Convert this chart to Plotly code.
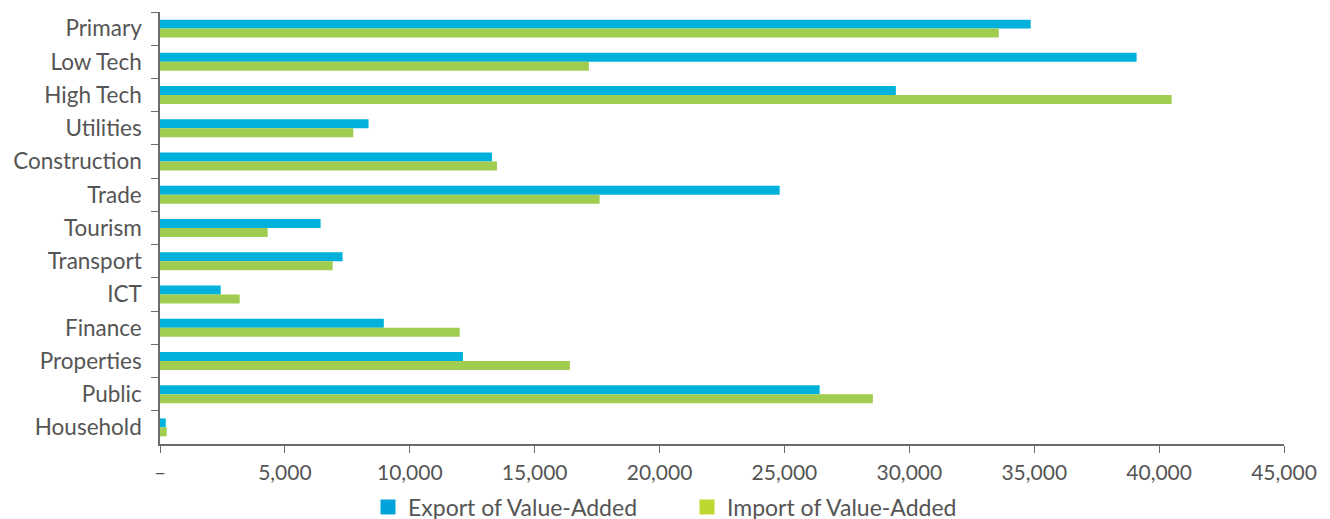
import plotly.graph_objects as go

categories = ["Primary", "Low Tech", "High Tech", "Utilities", "Construction", "Trade",
              "Tourism", "Transport", "ICT", "Finance", "Properties", "Public", "Household"]
export_va = [34860, 39100, 29460, 8350, 13290, 24810, 6430, 7310, 2430, 8960, 12130, 26410, 230]
import_va = [33580, 17170, 40500, 7740, 13490, 17600, 4310, 6910, 3190, 12000, 16410, 28540, 270]
x_tickvals = [0, 5000, 10000, 15000, 20000, 25000, 30000, 35000, 40000, 45000]
x_ticktext = ["–", "5,000", "10,000", "15,000", "20,000", "25,000", "30,000", "35,000", "40,000", "45,000"]

BLUE = "#00B2DB"
GREEN = "#A0CD50"
TEXT = "#555555"
AXIS = "#6b6b6b"

# the page places the figure 8px in from the top-left corner
OFF = 8
W, H = 1330, 519

fig = go.Figure()
fig.add_trace(go.Bar(y=categories, x=export_va, orientation="h", name="Export of Value-Added",
                     marker=dict(color=BLUE, line=dict(width=0)), showlegend=False))
fig.add_trace(go.Bar(y=categories, x=import_va, orientation="h", name="Import of Value-Added",
                     marker=dict(color=GREEN, line=dict(width=0)), showlegend=False))
# legend swatches (square markers, not part of the bar grouping)
fig.add_trace(go.Scatter(y=[None], x=[None], mode="markers", name="Export of Value-Added",
                         marker=dict(color="#00A3DA", symbol="square", size=15), showlegend=True))
fig.add_trace(go.Scatter(y=[None], x=[None], mode="markers", name="Import of Value-Added",
                         marker=dict(color="#BED630", symbol="square", size=15), showlegend=True))

fig.update_layout(
    width=W, height=H,
    margin=dict(l=160 - OFF, r=W - (1284 - OFF), t=12 - OFF, b=H - (444 - OFF), autoexpand=False),
    paper_bgcolor="white", plot_bgcolor="white",
    barmode="group", bargap=0.46, bargroupgap=0,
    font=dict(family="Lato, sans-serif", color=TEXT, size=20),
    legend=dict(orientation="h", xref="container", yref="container",
                x=(381 - OFF - 13) / W, xanchor="left", y=(H - (507 - OFF)) / H, yanchor="middle",
                font=dict(size=23, color=TEXT), traceorder="normal",
                itemwidth=30, entrywidth=274, bgcolor="rgba(0,0,0,0)"),
)
fig.update_xaxes(range=[0, 45000], tickvals=x_tickvals, ticktext=x_ticktext,
                 showgrid=False, zeroline=False, showline=True, linecolor=AXIS, linewidth=1.5,
                 ticks="outside", ticklen=7, tickcolor=AXIS, tickwidth=1.2, automargin=False,
                 tickfont=dict(size=21, color=TEXT), ticklabelstandoff=2, fixedrange=True)
fig.update_yaxes(autorange="reversed", type="category", tickson="boundaries",
                 showgrid=False, zeroline=False, showline=True, linecolor=AXIS, linewidth=1.5,
                 ticks="outside", ticklen=7, tickcolor=AXIS, tickwidth=1.2, automargin=False,
                 tickfont=dict(size=22.5, color=TEXT), ticklabelstandoff=12)

fig.write_html("out.html")
